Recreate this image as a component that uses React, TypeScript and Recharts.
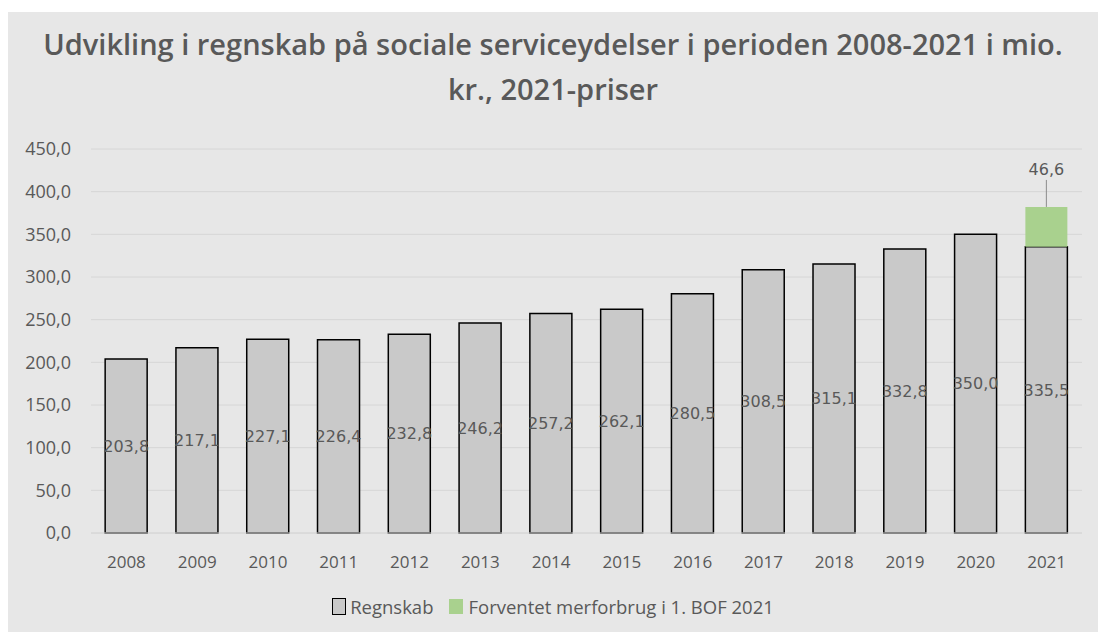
import { BarChart, Bar, XAxis, YAxis, CartesianGrid, Legend, LabelList } from "recharts";

const years = ["2008", "2009", "2010", "2011", "2012", "2013", "2014", "2015", "2016", "2017", "2018", "2019", "2020", "2021"];
const regnskab = [203.8, 217.1, 227.1, 226.4, 232.8, 246.2, 257.2, 262.1, 280.5, 308.5, 315.1, 332.8, 350.0, 335.5];
const merforbrug = [null, null, null, null, null, null, null, null, null, null, null, null, null, 46.6];
const yTicks = [0, 50, 100, 150, 200, 250, 300, 350, 400, 450];

const data = years.map((year, i) => ({ year, regnskab: regnskab[i], merforbrug: merforbrug[i] }));

const fmt = (v: any) => (v == null ? "" : Number(v).toFixed(1).replace(".", ","));

const TEXT = "#595959";
const BG = "#e7e7e7";

function TopLabel(props: any) {
  const { x, y, width, value } = props;
  if (value == null) return null;
  const cx = x + width / 2;
  return (
    <g>
      <line x1={cx} y1={y} x2={cx} y2={y - 27} stroke="#8c8c8c" strokeWidth={1} />
      <text x={cx} y={y - 36} textAnchor="middle" dominantBaseline="middle" fill={TEXT}
        style={{ fontFamily: "DejaVu Sans", fontSize: 16 }}>
        {fmt(value)}
      </text>
    </g>
  );
}

function LegendBox() {
  return (
    <div style={{ display: "flex", justifyContent: "center", alignItems: "center", height: 24,
      fontFamily: "Open Sans", fontSize: 18.5, color: TEXT }}>
      <span style={{ width: 12, height: 15, background: "#c9c9c9", border: "1.5px solid #000", marginRight: 4 }} />
      <span style={{ marginRight: 16 }}>Regnskab</span>
      <span style={{ width: 14, height: 15, background: "#a9d18e", marginRight: 5 }} />
      <span>Forventet merforbrug i 1. BOF 2021</span>
    </div>
  );
}

export default function App() {
  return (
    <div style={{ position: "absolute", left: 8, top: 12, width: 1090, height: 620, background: BG }}>
      <div style={{ position: "absolute", top: 9, left: 0, width: "100%", textAlign: "center",
        fontFamily: "Open Sans", fontWeight: 600, fontSize: 29, lineHeight: "45px", color: TEXT }}>
        Udvikling i regnskab på sociale serviceydelser i perioden 2008-2021 i mio.<br />kr., 2021-priser
      </div>
      <div style={{ position: "absolute", left: 0, top: 0 }}>
        <BarChart width={1090} height={620} data={data} barCategoryGap="20%"
          margin={{ top: 137, right: 16, left: 0, bottom: 30 }}>
          <CartesianGrid vertical={false} stroke="#d6d6d6" />
          <XAxis dataKey="year" height={45} tickLine={false} axisLine={{ stroke: "#d6d6d6" }} tickMargin={17}
            tick={{ fill: TEXT, fontSize: 17, fontFamily: "Open Sans" }} />
          <YAxis width={83} domain={[0, 450]} ticks={yTicks} tickFormatter={fmt} tickLine={false} axisLine={false}
            tickMargin={14} tick={{ fill: TEXT, fontSize: 18, fontFamily: "Open Sans" }} />
          <Legend verticalAlign="bottom" content={() => <LegendBox />}
            wrapperStyle={{ top: 582, left: 0, width: 1090 }} />
          <Bar dataKey="regnskab" name="Regnskab" stackId="a" fill="#c9c9c9" stroke="#000" strokeWidth={1.5}
            isAnimationActive={false}>
            <LabelList dataKey="regnskab" position="center" formatter={fmt} fill={TEXT}
              style={{ fontFamily: "DejaVu Sans", fontSize: 16 }} />
          </Bar>
          <Bar dataKey="merforbrug" name="Forventet merforbrug i 1. BOF 2021" stackId="a" fill="#a9d18e"
            isAnimationActive={false}>
            <LabelList dataKey="merforbrug" content={<TopLabel />} />
          </Bar>
        </BarChart>
      </div>
    </div>
  );
}
